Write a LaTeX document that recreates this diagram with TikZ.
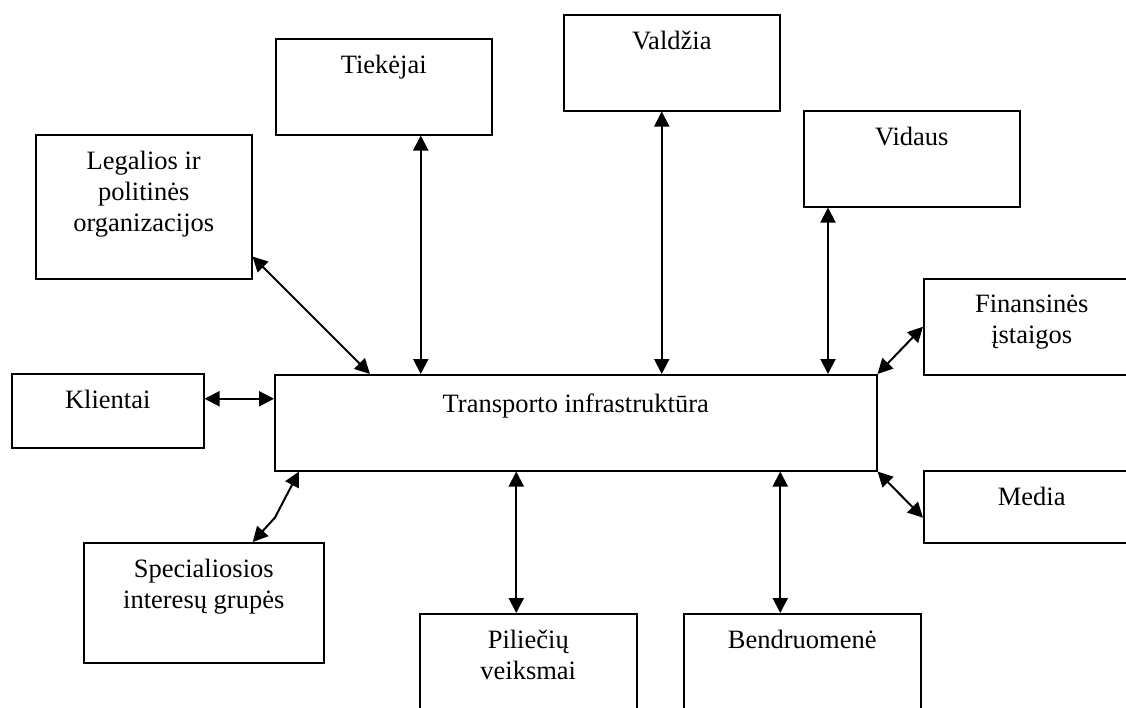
\documentclass[tikz,border=0pt]{standalone}
\usepackage{fontspec}
\setmainfont{Liberation Serif}
\usetikzlibrary{positioning,arrows.meta}

\begin{document}
\begin{tikzpicture}[
  x=1pt, y=-1pt,
  box/.style={draw, line width=1.5pt, anchor=north west, minimum width=216pt, minimum height=96pt, inner sep=0pt},
  txt/.style={inner sep=0pt, align=center, font=\fontsize{26.5pt}{31pt}\selectfont},
  arrow/.style={{Triangle[length=15pt,width=15pt]}-{Triangle[length=15pt,width=15pt]}, line width=2pt}
]
\clip (0,0) rectangle (1126,707);

\node[box, minimum height=144pt] (leg) at (35,134) {};
\node[box] (tiek) at (275,38) {};
\node[box] (vald) at (563,14) {};
\node[box] (vid) at (803,110) {};
\node[box] (fin) at (923,278) {};
\node[box, minimum width=192pt, minimum height=74pt] (klien) at (11,373) {};
\node[box, minimum width=602pt] (trans) at (274,374) {};
\node[box, minimum height=72pt] (media) at (923,470) {};
\node[box, minimum width=240pt, minimum height=120pt] (spec) at (83,542) {};
\node[box, minimum width=217pt, minimum height=120pt] (pil) at (419,613) {};
\node[box, minimum width=237pt, minimum height=120pt] (bend) at (683,613) {};

\node[txt, below=17pt of leg.north] (leg-t) {Legalios ir\\politinės\\organizacijos};
\node[txt, below=17pt of tiek.north] (tiek-t) {Tiekėjai};
\node[txt, below=17pt of vald.north] (vald-t) {Valdžia};
\node[txt, below=17pt of vid.north] (vid-t) {Vidaus};
\node[txt, below=17pt of fin.north] (fin-t) {Finansinės\\įstaigos};
\node[txt, below=17pt of klien.north] (klien-t) {Klientai};
\node[txt, below=20pt of trans.north] (trans-t) {Transporto infrastruktūra};
\node[txt, below=17pt of media.north] (media-t) {Media};
\node[txt, below=17pt of spec.north] (spec-t) {Specialiosios\\interesų grupės};
\node[txt, below=17pt of pil.north] (pil-t) {Piliečių\\veiksmai};
\node[txt, below=17pt of bend.north] (bend-t) {Bendruomenė};

\coordinate (tiek-x) at ([xshift=37pt]tiek.south);
\coordinate (vald-x) at ([xshift=-10pt]vald.south);
\coordinate (vid-x) at ([xshift=25pt]vid.south west);
\coordinate (klien-x) at ([yshift=12pt]klien.east);
\coordinate (pil-x) at ([xshift=-12pt]pil.north);
\coordinate (bend-x) at ([xshift=-22pt]bend.north);

\draw[arrow] ([yshift=23pt]leg.south east) -- ([xshift=96pt]trans.north west);
\draw[arrow] (tiek-x) -- (tiek-x |- trans.north);
\draw[arrow] (vald-x) -- (vald-x |- trans.north);
\draw[arrow] (vid-x) -- (vid-x |- trans.north);
\draw[arrow] (trans.north east) -- (fin.west);
\draw[arrow] (klien-x) -- (klien-x -| trans.west);
\draw[arrow] (trans.south east) -- ([yshift=-11pt]media.west);
\draw[arrow] ([xshift=25pt]trans.south west) -- ++(-24,46) -- ([xshift=49pt]spec.north);
\draw[arrow] (pil-x) -- (pil-x |- trans.south);
\draw[arrow] (bend-x) -- (bend-x |- trans.south);
\end{tikzpicture}
\end{document}
